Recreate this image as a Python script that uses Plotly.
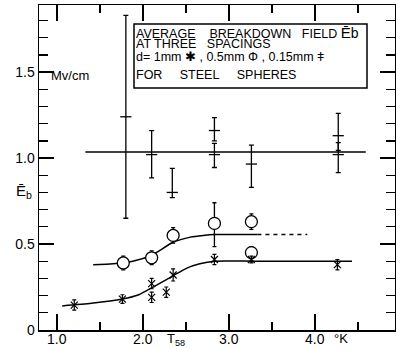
import plotly.graph_objects as go

# ---- data ----
# d = 1 mm (stars)
star_x = [1.20, 1.76, 2.10, 2.10, 2.27, 2.35, 2.83, 3.26, 4.26]
star_y = [0.145, 0.18, 0.27, 0.19, 0.22, 0.32, 0.41, 0.41, 0.38]
star_err = [0.03, 0.025, 0.03, 0.03, 0.03, 0.035, 0.03, 0.02, 0.03]

# d = 0.5 mm (circles)
circ_x = [1.77, 2.10, 2.35, 2.83, 3.26, 3.26]
circ_y = [0.39, 0.42, 0.55, 0.62, 0.63, 0.45]
circ_err_plus = [0.04, 0.04, 0.045, 0.12, 0.045, 0.035]
circ_err_minus = [0.04, 0.04, 0.045, 0.135, 0.045, 0.035]

# d = 0.15 mm (bars)
bar_x = [1.80, 2.10, 2.34, 2.83, 2.83, 3.26, 4.27, 4.27]
bar_y = [1.24, 1.02, 0.80, 1.16, 1.02, 0.965, 1.13, 1.02]
bar_err_plus = [0.59, 0.14, 0.14, 0.075, 0.065, 0.11, 0.13, 0.07]
bar_err_minus = [0.59, 0.135, 0.03, 0.06, 0.075, 0.135, 0.085, 0.105]

# hand-drawn guide curves
star_curve_x = [1.06, 1.40, 1.76, 1.95, 2.10, 2.35, 2.51, 2.66, 2.83, 3.30, 4.43]
star_curve_y = [0.14, 0.155, 0.18, 0.205, 0.245, 0.315, 0.36, 0.385, 0.40, 0.40, 0.40]
circ_curve_x = [1.42, 1.65, 1.88, 2.10, 2.35, 2.55, 2.70, 2.83, 3.33]
circ_curve_y = [0.38, 0.385, 0.40, 0.435, 0.51, 0.54, 0.55, 0.555, 0.555]
circ_dash_x = [3.33, 3.91]
circ_dash_y = [0.555, 0.555]
bar_line_x = [1.33, 4.59]
bar_line_y = [1.035, 1.035]

x_ticks = [1.0, 2.0, 3.0, 4.0]
x_tick_text = ["1.0", "2.0", "3.0", "4.0"]
x_minor = [1.5, 2.5, 3.5, 4.5]
y_ticks = [0.0, 0.5, 1.0, 1.5]
y_tick_text = ["0", "0.5", "1.0", "1.5"]
y_minor = [0.1, 0.2, 0.3, 0.4, 0.6, 0.7, 0.8, 0.9, 1.1, 1.2, 1.3, 1.4, 1.6, 1.7, 1.8]

FONT = "Liberation Sans"
K = "black"

fig = go.Figure()

# curves
fig.add_trace(go.Scatter(x=star_curve_x, y=star_curve_y, mode="lines",
                         line=dict(color=K, width=1.5, shape="spline", smoothing=0.6)))
fig.add_trace(go.Scatter(x=circ_curve_x, y=circ_curve_y, mode="lines",
                         line=dict(color=K, width=1.5, shape="spline", smoothing=0.6)))
fig.add_trace(go.Scatter(x=circ_dash_x, y=circ_dash_y, mode="lines",
                         line=dict(color=K, width=1.5, dash="4px,4px")))
fig.add_trace(go.Scatter(x=bar_line_x, y=bar_line_y, mode="lines",
                         line=dict(color=K, width=1.5)))

# 0.15 mm bars
fig.add_trace(go.Scatter(
    x=bar_x, y=bar_y, mode="markers",
    marker=dict(symbol="line-ew-open", size=8, color=K, line=dict(color=K, width=1.3)),
    error_y=dict(type="data", array=bar_err_plus, arrayminus=bar_err_minus,
                 color=K, thickness=1.3, width=2.5)))

# 0.5 mm circles
fig.add_trace(go.Scatter(
    x=circ_x, y=circ_y, mode="markers",
    marker=dict(symbol="circle", size=12, color="white", line=dict(color=K, width=1.3)),
    error_y=dict(type="data", array=circ_err_plus, arrayminus=circ_err_minus,
                 color=K, thickness=1.3, width=2)))

# 1 mm stars
fig.add_trace(go.Scatter(
    x=star_x, y=star_y, mode="markers",
    marker=dict(symbol="x-thin-open", size=7, color=K, line=dict(color=K, width=1.2)),
    error_y=dict(type="data", array=star_err, color=K, thickness=1.2, width=2)))

def px2paper(px, py):
    return (px - 39) / 356.0, (330 - py) / 325.0

# legend box
bx0, by0 = px2paper(134, 88)
bx1, by1 = px2paper(367, 24)
fig.add_shape(type="rect", xref="paper", yref="paper", x0=bx0, y0=by0, x1=bx1, y1=by1,
              line=dict(color=K, width=1.5), fillcolor="white", layer="above")

NB = "\u00a0"
lines = [
    ("AVERAGE" + NB * 4 + "BREAKDOWN" + NB * 3 + "FIELD "
     + "<span style='font-size:15px'>Ē</span><span style='font-size:14px'>b</span>", 33),
    ("AT THREE" + NB * 3 + "SPACINGS", 43.5),
    ("d= 1mm ✱ , 0.5mm Φ , 0.15mm ǂ", 57),
    ("FOR" + NB * 5 + "STEEL" + NB * 5 + "SPHERES", 75),
]
for txt, py in lines:
    ax, ay = px2paper(134, py)
    fig.add_annotation(xref="paper", yref="paper", x=ax, y=ay, text=txt, showarrow=False,
                       xanchor="left", yanchor="middle", font=dict(family=FONT, size=12.5, color=K))

ax, ay = px2paper(49, 75)
fig.add_annotation(xref="paper", yref="paper", x=ax, y=ay, text="Mv/cm", showarrow=False,
                   xanchor="left", yanchor="middle", font=dict(family=FONT, size=13, color=K))
ax, ay = px2paper(14, 191)
fig.add_annotation(xref="paper", yref="paper", x=ax, y=ay, text="Ē<sub>b</sub>", showarrow=False,
                   xanchor="left", yanchor="middle", font=dict(family=FONT, size=15, color=K))
ax, ay = px2paper(165, 340)
fig.add_annotation(xref="paper", yref="paper", x=ax, y=ay, text="T<sub>58</sub>", showarrow=False,
                   xanchor="left", yanchor="middle", font=dict(family=FONT, size=13, color=K))
ax, ay = px2paper(332, 338)
fig.add_annotation(xref="paper", yref="paper", x=ax, y=ay, text="°K", showarrow=False,
                   xanchor="left", yanchor="middle", font=dict(family=FONT, size=13, color=K))

# x tick labels placed close to the axis
for v, t in zip(x_ticks, x_tick_text):
    fig.add_annotation(xref="x", yref="paper", x=v, y=(330 - 339) / 325.0, text=t,
                       showarrow=False, xanchor="center", yanchor="middle",
                       font=dict(family=FONT, size=14, color=K))

fig.update_layout(
    width=396, height=350,
    margin=dict(l=39, r=1, t=5, b=20, autoexpand=False),
    paper_bgcolor="white", plot_bgcolor="white",
    showlegend=False,
    font=dict(family=FONT, size=14, color=K),
    xaxis=dict(range=[0.79, 4.93], showgrid=False, zeroline=False, automargin=False,
               showline=True, linecolor=K, linewidth=1.5, mirror="ticks",
               ticks="inside", ticklen=16, tickwidth=1.5, tickcolor=K,
               tickmode="array", tickvals=x_ticks, ticktext=x_tick_text,
               showticklabels=False,
               minor=dict(tickmode="array", tickvals=x_minor, ticks="inside",
                          ticklen=8, tickwidth=1.5, tickcolor=K, showgrid=False)),
    yaxis=dict(range=[0, 1.89], showgrid=False, zeroline=False, automargin=False,
               showline=True, linecolor=K, linewidth=1.5, mirror="ticks",
               ticks="inside", ticklen=15, tickwidth=1.5, tickcolor=K,
               tickmode="array", tickvals=y_ticks, ticktext=y_tick_text,
               minor=dict(tickmode="array", tickvals=y_minor, ticks="inside",
                          ticklen=9, tickwidth=1.3, tickcolor=K, showgrid=False),
               tickfont=dict(family=FONT, size=14, color=K)),
)

fig.write_html("out.html",
               config={"displayModeBar": False, "staticPlot": True},
               post_script="document.body.style.margin='0';document.body.style.padding='0';")
